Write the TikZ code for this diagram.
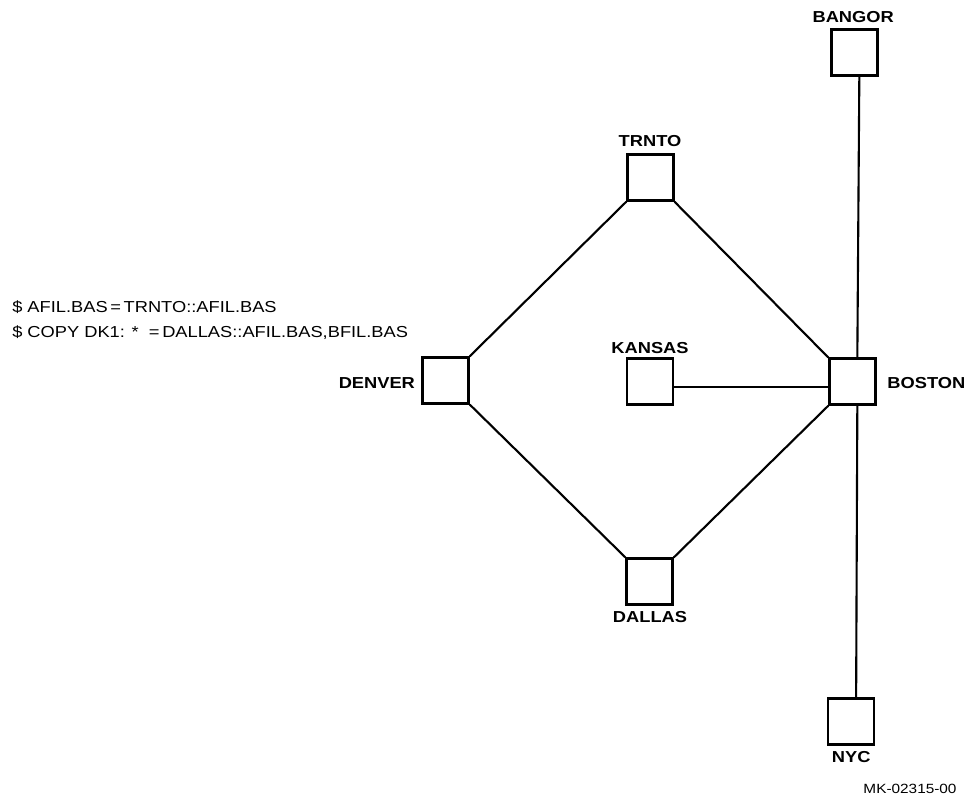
\documentclass[tikz,border=0pt]{standalone}
\usepackage{fontspec}
\setmainfont[FakeStretch=1.15]{Liberation Sans}
\usetikzlibrary{positioning}

\begin{document}
\begin{tikzpicture}[
  site/.style={draw, line width=1.6pt, minimum size=1.15cm, inner sep=0pt},
  sitename/.style={anchor=base, inner sep=0pt, font=\fontsize{11.3}{13}\selectfont\bfseries},
  link/.style={line width=1.5pt},
  cmd/.style={anchor=base west, inner sep=0pt, font=\fontsize{11.3}{13}\selectfont}]

\useasboundingbox (0,0) rectangle (24.2,-20);

% nodes
\node[site] (bangor) at (21.36,-1.31) {};
\node[site] (trnto) at (16.26,-4.44) {};
\node[site] (denver) at (11.14,-9.51) {};
\node[site] (kansas) at (16.25,-9.54) {};
\node[site] (boston) at (21.31,-9.54) {};
\node[site] (dallas) at (16.24,-14.54) {};
\node[site] (nyc) at (21.28,-18.04) {};

% names
\node[sitename] (bangorname) at (21.33,-0.57) {BANGOR};
\node[sitename] (trntoname) at (16.25,-3.65) {TRNTO};
\node[sitename] (kansasname) at (16.25,-8.83) {KANSAS};
\node[sitename, anchor=base east] (denvername) at (10.38,-9.70) {DENVER};
\node[sitename, anchor=base west] (bostonname) at (22.18,-9.70) {BOSTON};
\node[sitename] (dallasname) at (16.25,-15.55) {DALLAS};
\node[sitename] (nycname) at (21.28,-19.05) {NYC};

% links
\draw[link] (trnto.south west) -- (denver.north east);
\draw[link] (trnto.south east) -- (boston.north west);
\draw[link] (denver.south east) -- (dallas.north west);
\draw[link] (dallas.north east) -- (boston.south west);
\draw[link] ([yshift=-4pt]kansas.east) -- ([yshift=-4pt]boston.west);
\draw[link] ([xshift=3.5pt]bangor.south) -- ([xshift=3.5pt]boston.north);
\draw[link] ([xshift=3.5pt]boston.south) -- ([xshift=3.5pt]nyc.north);

% commands
\node[cmd] (cmdone) at (0.30,-7.80) {\$ AFIL.BAS\,=\,TRNTO::AFIL.BAS};
\node[cmd] (cmdtwo) at (0.30,-8.43) {\$ COPY DK1: *\ \ =\,DALLAS::AFIL.BAS,BFIL.BAS};

\node[anchor=base, inner sep=0pt, font=\fontsize{9.5}{11}\selectfont] (figno) at (22.75,-19.83) {MK-02315-00};
\end{tikzpicture}
\end{document}
